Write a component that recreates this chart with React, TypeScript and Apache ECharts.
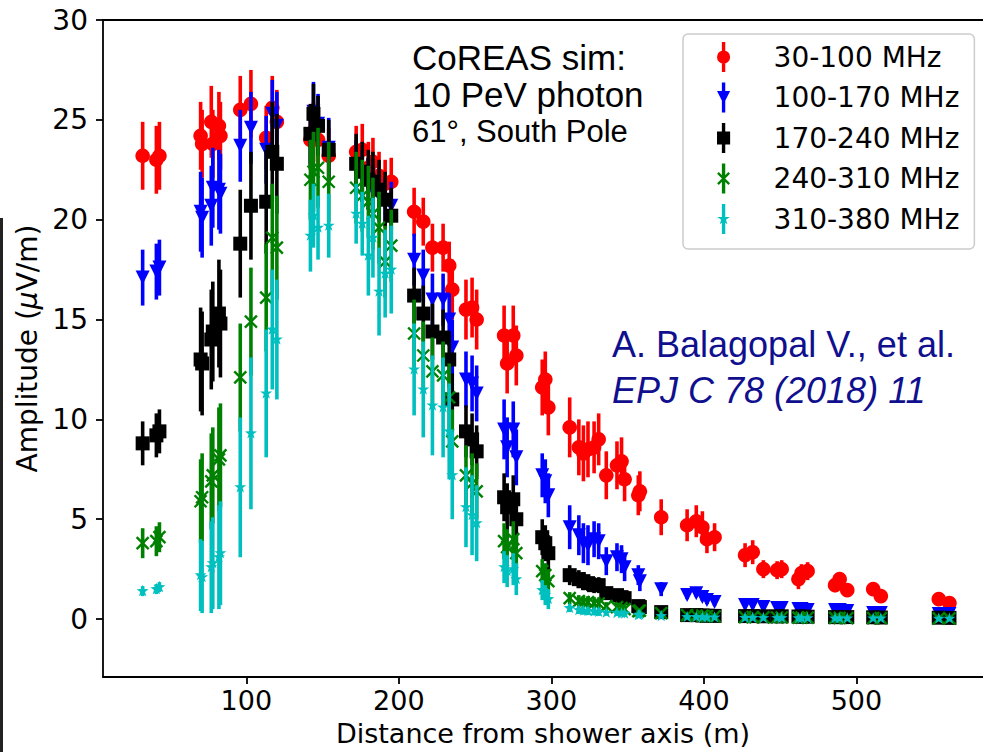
import React, { useEffect, useRef } from "react";
import * as echarts from "echarts";

// ---------------- data ----------------
const bandNames = ["30-100 MHz", "100-170 MHz", "170-240 MHz", "240-310 MHz", "310-380 MHz"];
const bandColors = ["#ff0000", "#0000ff", "#000000", "#008000", "#00bfbf"];
const bandMarkers = ["circle", "triDown", "square", "cross", "star"];
const xTicks = [100, 200, 300, 400, 500];
const yTicks = [0, 5, 10, 15, 20, 25, 30];

// antenna distances from the shower axis (m)
const distances = [
  32, 41, 43,
  70, 71, 77, 78, 82, 83,
  96, 103, 113, 117, 120,
  142, 144, 147, 154,
  172, 176, 180, 183, 187, 191, 195,
  210, 216, 222, 229, 233, 235, 244, 248, 251,
  269, 271, 275, 277,
  294, 296, 298,
  312, 318, 321, 324, 328, 331,
  336, 343, 346, 348,
  357, 358,
  372,
  389, 395, 399, 402, 407,
  427, 432,
  439, 448, 451,
  462, 464, 468,
  486, 489, 494,
  511, 516,
  554, 561,
];

// 30-100 MHz
const amp30_100 = [
  23.2, 23.0, 23.2,
  24.2, 23.8, 24.9, 23.8, 24.7, 24.2,
  25.5, 25.8, 24.1, 25.6, 24.9,
  24.0, 24.4, 24.0, 23.2,
  23.4, 23.5, 22.6, 22.9, 22.2, 21.8, 21.9,
  20.4, 19.9, 18.6, 18.6, 17.7, 16.5, 15.5, 15.6, 15.0,
  14.2, 12.8, 14.2, 13.2,
  11.6, 12.0, 10.6,
  9.6, 8.6, 8.3, 8.5, 8.6, 9.0,
  7.2, 7.7, 7.9, 7.0,
  6.2, 6.4,
  5.1,
  4.7, 4.9, 4.6, 4.0, 4.1,
  3.2, 3.35,
  2.5, 2.45, 2.5,
  2.0, 2.3, 2.4,
  1.7, 2.0, 1.45,
  1.5, 1.15,
  1.0, 0.8,
];
const err30_100 = [
  1.7, 1.7, 1.7,
  1.7, 1.7, 1.8, 1.7, 1.7, 1.7,
  1.7, 1.7, 1.6, 1.6, 1.6,
  1.5, 1.5, 1.5, 1.4,
  1.3, 1.3, 1.3, 1.2, 1.2, 1.2, 1.2,
  1.2, 1.2, 1.2, 1.2, 1.2, 1.5, 1.5, 1.5, 1.5,
  1.5, 1.5, 1.5, 1.5,
  1.4, 1.4, 1.4,
  1.5, 1.4, 1.4, 1.4, 1.3, 1.3,
  1.2, 1.2, 1.2, 1.1,
  1.0, 1.0,
  0.9,
  0.8, 0.8, 0.8, 0.7, 0.7,
  0.6, 0.6,
  0.45, 0.45, 0.45,
  0.5, 0.45, 0.45,
  0.35, 0.35, 0.3,
  0.2, 0.2,
  0.12, 0.12,
];

// 100-170 MHz
const amp100_170 = [
  17.1, 17.4, 17.6,
  20.4, 20.1, 20.7, 21.6, 21.5, 21.3,
  23.7, 24.6, 23.5, 25.3, 24.7,
  24.2, 25.4, 24.8, 23.6,
  22.7, 22.2, 21.8, 21.5, 21.2, 20.9, 20.7,
  18.0, 17.2, 16.0, 16.0, 15.0, 13.6, 12.0, 11.8, 11.3,
  9.5, 8.6, 9.5, 8.1,
  7.2, 6.9, 6.2,
  4.6, 4.2, 3.8, 3.7, 4.0, 3.9,
  2.9, 3.1, 3.0, 2.6,
  2.2, 1.9,
  1.5,
  1.2, 1.3, 1.1, 0.95, 0.85,
  0.7, 0.7,
  0.6, 0.55, 0.55,
  0.5, 0.5, 0.45,
  0.45, 0.45, 0.4,
  0.3, 0.3,
  0.25, 0.25,
];
const err100_170 = [
  1.4, 1.4, 1.4,
  2.0, 2.0, 2.0, 2.0, 2.0, 2.0,
  1.8, 1.8, 1.7, 1.7, 1.7,
  1.5, 1.5, 1.5, 1.5,
  1.3, 1.3, 1.3, 1.3, 1.3, 1.2, 1.2,
  1.3, 1.3, 1.3, 1.3, 1.3, 1.4, 1.4, 1.4, 1.4,
  1.5, 1.5, 1.4, 1.4,
  1.1, 1.1, 1.1,
  1.1, 1.0, 1.0, 1.0, 0.9, 0.9,
  0.7, 0.7, 0.7, 0.7,
  0.5, 0.5,
  0.35,
  0.2, 0.2, 0.2, 0.2, 0.2,
  0.15, 0.15,
  0.12, 0.12, 0.12,
  0.1, 0.1, 0.1,
  0.1, 0.1, 0.1,
  0.08, 0.08,
  0.06, 0.06,
];

// 170-240 MHz
const amp170_240 = [
  8.8, 9.2, 9.4,
  13.0, 12.8, 14.0, 14.4, 15.3, 14.8,
  18.8, 20.7, 20.9, 23.4, 22.8,
  24.3, 25.3, 24.7, 23.5,
  22.8, 22.4, 22.0, 21.9, 21.5, 21.0, 20.2,
  16.2, 15.3, 14.4, 14.1, 13.0, 11.0, 9.4, 9.0, 8.4,
  6.1, 5.6, 6.0, 5.0,
  4.1, 3.8, 3.3,
  2.2, 2.0, 1.9, 1.8, 1.7, 1.7,
  1.3, 1.2, 1.1, 1.05,
  0.65, 0.6,
  0.35,
  0.2, 0.2, 0.18, 0.17, 0.16,
  0.15, 0.15,
  0.14, 0.14, 0.14,
  0.13, 0.12, 0.12,
  0.1, 0.1, 0.1,
  0.09, 0.08,
  0.07, 0.06,
];
const err170_240 = [
  1.1, 1.1, 1.1,
  2.6, 2.6, 2.5, 2.5, 2.7, 2.7,
  2.7, 2.7, 2.6, 2.5, 2.5,
  1.5, 1.5, 1.5, 1.5,
  1.5, 1.5, 1.5, 1.5, 1.5, 1.4, 1.4,
  1.4, 1.4, 1.4, 1.4, 1.4, 1.3, 1.3, 1.3, 1.3,
  1.2, 1.2, 1.2, 1.2,
  0.9, 0.9, 0.9,
  0.5, 0.45, 0.45, 0.4, 0.4, 0.4,
  0.3, 0.3, 0.3, 0.3,
  0.2, 0.2,
  0.12,
  0.08, 0.08, 0.08, 0.08, 0.08,
  0.06, 0.06,
  0.05, 0.05, 0.05,
  0.05, 0.05, 0.05,
  0.04, 0.04, 0.04,
  0.03, 0.03,
  0.03, 0.03,
];

// 240-310 MHz
const amp240_310 = [
  3.8, 3.9, 4.1,
  5.9, 6.1, 6.9, 7.2, 8.0, 8.2,
  12.1, 14.9, 16.1, 19.1, 18.6,
  22.0, 22.4, 22.6, 21.9,
  21.6, 21.2, 20.9, 20.3, 19.6, 17.9, 18.7,
  14.3, 13.2, 12.4, 12.2, 11.1, 8.9, 7.2, 6.8, 6.4,
  3.9, 3.6, 4.0, 3.3,
  2.4, 2.2, 1.9,
  1.05, 0.9, 0.85, 0.85, 0.8, 0.78,
  0.65, 0.6, 0.55, 0.5,
  0.4, 0.42,
  0.3,
  0.2, 0.18, 0.17, 0.15, 0.14,
  0.1, 0.1,
  0.09, 0.08, 0.08,
  0.07, 0.07, 0.07,
  0.06, 0.06, 0.05,
  0.05, 0.05,
  0.04, 0.04,
];
const err240_310 = [
  0.75, 0.75, 0.75,
  2.1, 2.2, 2.4, 2.4, 2.6, 2.6,
  2.7, 2.7, 2.7, 2.7, 2.6,
  2.0, 2.0, 2.0, 2.0,
  1.8, 1.8, 1.8, 1.8, 1.8, 1.8, 1.8,
  1.7, 1.7, 1.7, 1.7, 1.7, 1.6, 1.5, 1.5, 1.4,
  0.9, 0.9, 0.9, 0.9,
  0.6, 0.6, 0.6,
  0.3, 0.3, 0.3, 0.3, 0.3, 0.3,
  0.2, 0.2, 0.2, 0.2,
  0.1, 0.1,
  0.08,
  0.05, 0.05, 0.05, 0.05, 0.05,
  0.04, 0.04,
  0.04, 0.04, 0.04,
  0.03, 0.03, 0.03,
  0.03, 0.03, 0.03,
  0.02, 0.02,
  0.02, 0.02,
];

// 310-380 MHz
const amp310_380 = [
  1.4, 1.5, 1.6,
  2.2, 2.1, 2.6, 2.8, 3.1, 3.3,
  6.6, 9.3, 11.3, 14.5, 14.0,
  19.2, 20.2, 19.6, 19.7,
  20.3, 19.8, 18.2, 19.1, 16.4, 17.3, 17.5,
  12.5, 11.5, 10.7, 10.6, 9.4, 7.2, 5.6, 5.2, 4.8,
  2.6, 2.4, 2.5, 2.0,
  1.45, 1.2, 1.0,
  0.55, 0.45, 0.42, 0.4, 0.38, 0.36,
  0.32, 0.3, 0.28, 0.27,
  0.2, 0.22,
  0.15,
  0.1, 0.1, 0.09, 0.08, 0.08,
  0.06, 0.06,
  0.05, 0.05, 0.05,
  0.04, 0.04, 0.04,
  0.03, 0.03, 0.03,
  0.03, 0.03,
  0.02, 0.02,
];
const err310_380 = [
  0.25, 0.25, 0.25,
  1.8, 1.8, 2.3, 2.3, 2.6, 2.6,
  3.5, 3.8, 3.2, 3.0, 3.0,
  1.8, 1.6, 1.6, 1.6,
  1.5, 1.6, 2.0, 2.0, 2.2, 2.2, 2.2,
  2.3, 2.4, 2.5, 2.5, 2.4, 2.2, 2.0, 2.0, 1.9,
  0.8, 0.8, 0.8, 0.8,
  0.5, 0.5, 0.5,
  0.2, 0.2, 0.2, 0.2, 0.2, 0.2,
  0.15, 0.15, 0.15, 0.15,
  0.1, 0.1,
  0.06,
  0.04, 0.04, 0.04, 0.04, 0.04,
  0.03, 0.03,
  0.03, 0.03, 0.03,
  0.02, 0.02, 0.02,
  0.02, 0.02, 0.02,
  0.02, 0.02,
  0.01, 0.01,
];

const bandAmps = [amp30_100, amp100_170, amp170_240, amp240_310, amp310_380];
const bandErrs = [err30_100, err100_170, err170_240, err240_310, err310_380];

// ---------------- styling helpers ----------------
const AXIS_FONT = "DejaVu Sans";
const ANNOT_FONT = "Liberation Sans";

const legendIcons = [
  "path://M6.2,0H9.8V32H6.2Z M1,16A7,7 0 1,1 15,16A7,7 0 1,1 1,16Z",
  "path://M6.2,0H9.8V32H6.2Z M1,9H15L8,23Z",
  "path://M6.2,0H9.8V32H6.2Z M1,9H15V23H1Z",
  "path://M6.2,0H9.8V32H6.2Z M2.88,9.12L14.88,21.12L13.12,22.88L1.12,10.88Z M14.88,10.88L2.88,22.88L1.12,21.12L13.12,9.12Z",
  "path://M6.2,0H9.8V32H6.2Z M8,9L9.59,13.82L14.66,13.84L10.57,16.83L12.11,21.66L8,18.7L3.89,21.66L5.43,16.83L1.34,13.84L6.41,13.82Z",
];

function markerElement(kind: string, cx: number, cy: number, color: string): any {
  if (kind === "circle") {
    return { type: "circle", shape: { cx, cy, r: 7.3 }, style: { fill: color } };
  }
  if (kind === "triDown") {
    const h = 7;
    return {
      type: "polygon",
      shape: { points: [[cx - h, cy - h], [cx + h, cy - h], [cx, cy + h]] },
      style: { fill: color },
    };
  }
  if (kind === "square") {
    return { type: "rect", shape: { x: cx - 7, y: cy - 7, width: 14, height: 14 }, style: { fill: color } };
  }
  if (kind === "cross") {
    const h = 6;
    return {
      type: "group",
      children: [
        { type: "line", shape: { x1: cx - h, y1: cy - h, x2: cx + h, y2: cy + h }, style: { stroke: color, lineWidth: 2.4 } },
        { type: "line", shape: { x1: cx + h, y1: cy - h, x2: cx - h, y2: cy + h }, style: { stroke: color, lineWidth: 2.4 } },
      ],
    };
  }
  // star
  const R = 6.3;
  const r = 2.5;
  const pts: number[][] = [];
  for (let k = 0; k < 10; k++) {
    const ang = ((-90 + 36 * k) * Math.PI) / 180;
    const rad = k % 2 === 0 ? R : r;
    pts.push([cx + rad * Math.cos(ang), cy + rad * Math.sin(ang)]);
  }
  return { type: "polygon", shape: { points: pts }, style: { fill: color } };
}

function buildSeries(): any[] {
  const out: any[] = [];
  bandNames.forEach((name, b) => {
    const color = bandColors[b];
    const data = distances.map((d, i) => [d, bandAmps[b][i], bandErrs[b][i]]);
    out.push({
      type: "custom",
      name,
      coordinateSystem: "cartesian2d",
      encode: { x: 0, y: 1 },
      itemStyle: { color },
      silent: true,
      data,
      renderItem: (_p: any, api: any) => {
        const x = api.value(0);
        const y = api.value(1);
        const e = api.value(2);
        const top = api.coord([x, y + e]);
        const bot = api.coord([x, y - e]);
        return {
          type: "line",
          shape: { x1: top[0], y1: top[1], x2: bot[0], y2: bot[1] },
          style: { stroke: color, lineWidth: 3.6 },
        };
      },
    });
    out.push({
      type: "custom",
      name,
      coordinateSystem: "cartesian2d",
      encode: { x: 0, y: 1 },
      itemStyle: { color },
      silent: true,
      data,
      renderItem: (_p: any, api: any) => {
        const p = api.coord([api.value(0), api.value(1)]);
        return markerElement(bandMarkers[b], p[0], p[1], color);
      },
    });
  });
  return out;
}

function annot(text: string, x: number, y: number, font: string, fill: string): any {
  return {
    type: "text",
    x,
    y,
    style: {
      text,
      font,
      fill,
      textAlign: "left",
      align: "left",
      textVerticalAlign: "middle",
      verticalAlign: "middle",
    },
  };
}

export default function App() {
  const ref = useRef<HTMLDivElement>(null);

  useEffect(() => {
    if (!ref.current) return;
    const chart = echarts.init(ref.current, undefined, { renderer: "svg" });
    const axisLine = { show: true, onZero: false, lineStyle: { color: "#000", width: 1.8 } };
    const option: any = {
      animation: false,
      backgroundColor: "#ffffff",
      grid: { left: 103, right: 0, top: 20, bottom: 75, containLabel: false, outerBoundsMode: "none" },
      xAxis: [
        {
          type: "value",
          min: 6,
          max: 583,
          position: "bottom",
          axisLine,
          axisTick: { show: true, length: 7, customValues: xTicks, lineStyle: { color: "#000", width: 1.8 } },
          axisLabel: { customValues: xTicks, fontFamily: AXIS_FONT, fontSize: 27, color: "#000", margin: 10 },
          splitLine: { show: false },
          name: "Distance from shower axis (m)",
          nameLocation: "middle",
          nameGap: 42.5,
          nameMoveOverlap: false,
          nameTextStyle: { fontFamily: AXIS_FONT, fontSize: 27, color: "#000" },
        },
        {
          type: "value",
          min: 6,
          max: 583,
          position: "top",
          axisLine,
          axisTick: { show: false },
          axisLabel: { show: false },
          splitLine: { show: false },
        },
      ],
      yAxis: {
        type: "value",
        min: -2.9,
        max: 30,
        axisLine,
        axisTick: { show: true, length: 7, customValues: yTicks, lineStyle: { color: "#000", width: 1.8 } },
        axisLabel: { customValues: yTicks, fontFamily: AXIS_FONT, fontSize: 28, color: "#000", margin: 15 },
        splitLine: { show: false },
        name: "Amplitude ({i|μ}V/m)",
        nameLocation: "middle",
        nameGap: 55,
        nameRotate: 90,
        nameTextStyle: {
          fontFamily: AXIS_FONT,
          fontSize: 28,
          color: "#000",
          rich: { i: { fontFamily: AXIS_FONT, fontSize: 28, fontStyle: "italic", color: "#000" } },
        },
      },
      legend: {
        orient: "vertical",
        left: 683,
        top: 34,
        padding: [8, 15, 15, 34],
        itemWidth: 30,
        itemHeight: 30,
        itemGap: 10.5,
        selectedMode: false,
        backgroundColor: "rgba(255,255,255,0.8)",
        borderColor: "#cccccc",
        borderWidth: 1.5,
        borderRadius: 5,
        textStyle: { fontFamily: AXIS_FONT, fontSize: 28, color: "#000", padding: [0, 0, 0, 30] },
        data: bandNames.map((n, i) => ({ name: n, icon: legendIcons[i] })),
      },
      graphic: [
        {
          type: "line",
          shape: { x1: 1.5, y1: 218, x2: 1.5, y2: 752 },
          style: { stroke: "#222", lineWidth: 3 },
        },
        annot("CoREAS sim:", 412, 57.6, `35px "${ANNOT_FONT}"`, "#000"),
        annot("10 PeV photon", 412, 94.2, `35px "${ANNOT_FONT}"`, "#000"),
        annot("61°, South Pole", 412, 131, `31px "${ANNOT_FONT}"`, "#000"),
        annot("A. Balagopal V., et al.", 612, 344.3, `36px "${ANNOT_FONT}"`, "#10108f"),
        annot("EPJ C 78 (2018) 11", 612, 390.7, `italic 36px "${ANNOT_FONT}"`, "#10108f"),
      ],
      series: buildSeries(),
    };
    chart.setOption(option);
    return () => chart.dispose();
  }, []);

  return (
    <div
      ref={ref}
      style={{ position: "fixed", left: 0, top: 0, width: 983, height: 752, background: "#fff" }}
    />
  );
}
